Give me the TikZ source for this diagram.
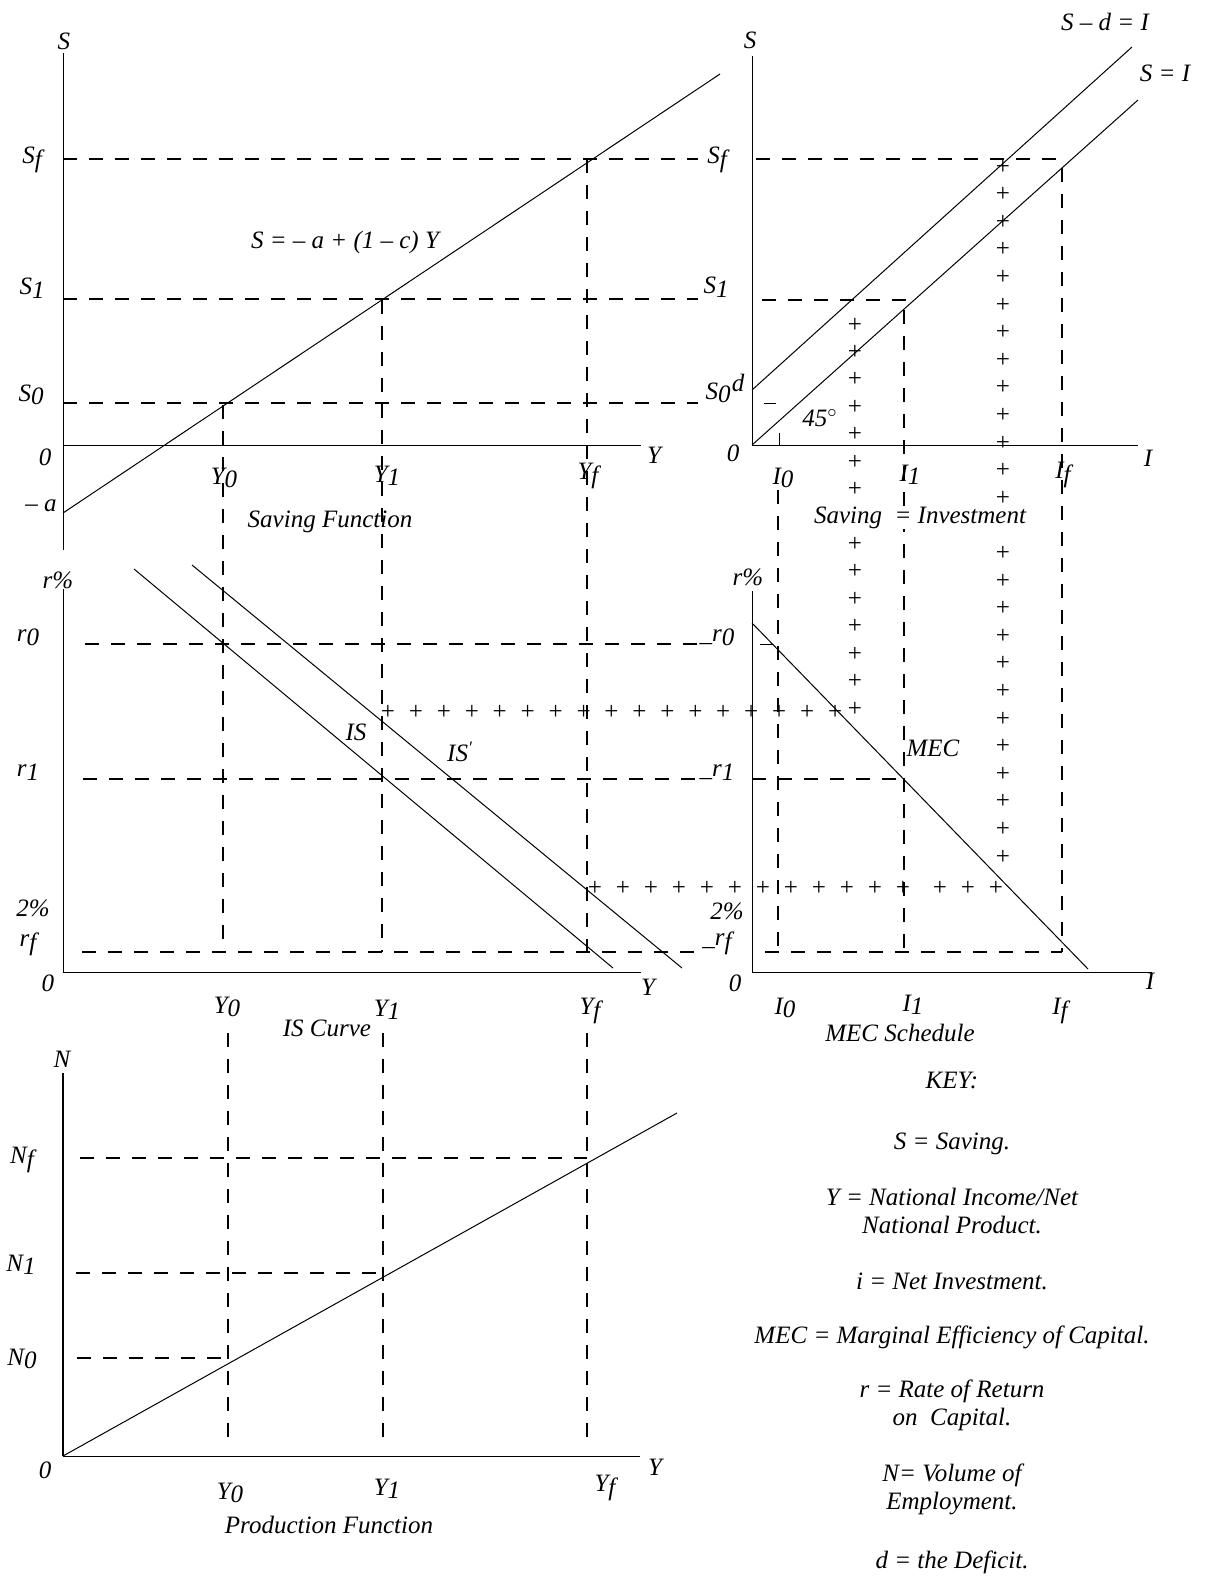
\documentclass[tikz,border=0pt]{standalone}
\usepackage{fontspec}
\setmainfont{Liberation Serif}
\usetikzlibrary{calc}
\newcommand{\lowsub}[1]{\raisebox{-0.3ex}{#1}}

\begin{document}
\begin{tikzpicture}[x=0.5pt, y=-0.5pt, line width=0.5pt,
  dashline/.style={dash pattern=on 7pt off 6pt, line width=0.55pt},
  lbl/.style={font=\fontsize{12.5}{14}\selectfont\itshape, inner sep=0pt},
  plus/.style={font=\fontsize{12.5}{14}\selectfont, inner sep=0pt}]

\useasboundingbox (0,0) rectangle (1206,1585);


\coordinate (OA) at (63,445);
\coordinate (SA) at (63,53);
\coordinate (SAlow) at (63,550);
\coordinate (YA) at (641,445);
\coordinate (SavA) at (63,513);
\coordinate (SavB) at (720,74);

\coordinate (SfA) at (63,159);
\coordinate (SfB) at (698,159);
\coordinate (S1A) at (63,299);
\coordinate (S1B) at (698,299);
\coordinate (S0A) at (63,403);
\coordinate (S0B) at (698,403);

\coordinate (Y0top) at (223,405);
\coordinate (Y1top) at (382,300);
\coordinate (Yftop) at (587,159);
\coordinate (Y0mid) at (223,952);
\coordinate (Y1mid) at (382,952);
\coordinate (Yfmid) at (587,952);


\coordinate (OB) at (752,445);
\coordinate (SB) at (752,56);
\coordinate (IB) at (1138,445);
\coordinate (SIend) at (1138,100);
\coordinate (SDA) at (752,390);
\coordinate (SDB) at (1132,47);

\coordinate (SfC) at (756,159);
\coordinate (SfD) at (1062,159);
\coordinate (S1C) at (762,300);
\coordinate (S1D) at (910,300);
\coordinate (S0C) at (764,403);
\coordinate (S0D) at (776,403);

\coordinate (I0tick) at (779,433);
\coordinate (I0axis) at (779,445);
\coordinate (I0top) at (778,490);
\coordinate (I1top) at (904,310);
\coordinate (Iftop) at (1062,168);
\coordinate (I0low) at (778,952);
\coordinate (I1low) at (904,952);
\coordinate (Iflow) at (1062,952);


\coordinate (OD) at (63,972);
\coordinate (RD) at (63,589);
\coordinate (YD) at (641,972);
\coordinate (ISA) at (134,569);
\coordinate (ISB) at (613,968);
\coordinate (ISpA) at (192,565);
\coordinate (ISpB) at (682,968);

\coordinate (r0A) at (85,644);
\coordinate (r0B) at (700,644);
\coordinate (r1A) at (83,779);
\coordinate (r1B) at (700,779);
\coordinate (rfA) at (82,952);
\coordinate (rfB) at (700,952);


\coordinate (OC) at (752,972);
\coordinate (RC) at (752,591);
\coordinate (IC) at (1152,972);
\coordinate (MECA) at (752,623);
\coordinate (MECB) at (1088,969);

\coordinate (r0C) at (760,644);
\coordinate (r0D) at (773,644);
\coordinate (r1C) at (752,779);
\coordinate (r1D) at (904,779);
\coordinate (rfC) at (765,952);
\coordinate (rfD) at (1062,952);


\coordinate (OE) at (63,1456);
\coordinate (NE) at (63,1073);
\coordinate (YE) at (640,1456);
\coordinate (PFB) at (677,1113);

\coordinate (NfA) at (80,1158);
\coordinate (NfB) at (587,1158);
\coordinate (N1A) at (76,1273);
\coordinate (N1B) at (383,1273);
\coordinate (N0A) at (77,1358);
\coordinate (N0B) at (227,1358);

\coordinate (Y0E) at (228,1033);
\coordinate (Y1E) at (383,1033);
\coordinate (YfE) at (587,1033);
\coordinate (Y0Elow) at (228,1442);
\coordinate (Y1Elow) at (383,1442);
\coordinate (YfElow) at (587,1442);


\draw (SA) -- (SAlow);
\draw (OA) -- (YA);
\draw (SavA) -- (SavB);
\draw [dashline] (SfA) -- (SfB);
\draw [dashline] (S1A) -- (S1B);
\draw [dashline] (S0A) -- (S0B);
\draw [dashline] (Y0top) -- (Y0mid);
\draw [dashline] (Y1top) -- (Y1mid);
\draw [dashline] (Yftop) -- (Yfmid);

\draw (SB) -- (OB) -- (IB);
\draw (OB) -- (SIend);
\draw (SDA) -- (SDB);
\draw [dashline] (SfC) -- (SfD);
\draw [dashline] (S1C) -- (S1D);
\draw (S0C) -- (S0D);
\draw (I0tick) -- (I0axis);
\draw [dashline] (I0top) -- (I0low);
\draw [dashline] (I1top) -- (I1low);
\draw [dashline] (Iftop) -- (Iflow);

\draw (RD) -- (OD) -- (YD);
\draw (ISA) -- (ISB);
\draw (ISpA) -- (ISpB);
\draw [dashline] (r0A) -- (r0B);
\draw [dashline] (r1A) -- (r1B);
\draw [dashline] (rfA) -- (rfB);

\draw (RC) -- (OC) -- (IC);
\draw (MECA) -- (MECB);
\draw (r0C) -- (r0D);
\draw [dashline] (r1C) -- (r1D);
\draw [dashline] (rfC) -- (rfD);

\draw [line width=1pt] (NE) -- (OE);
\draw (OE) -- (YE);
\draw (OE) -- (PFB);
\draw [dashline] (NfA) -- (NfB);
\draw [dashline] (N1A) -- (N1B);
\draw [dashline] (N0A) -- (N0B);
\draw [dashline] (Y0E) -- (Y0Elow);
\draw [dashline] (Y1E) -- (Y1Elow);
\draw [dashline] (YfE) -- (YfElow);


\foreach \k in {0,...,6,8,9,...,14}
  \node[plus] (pa\k) at (855,{325+27.43*\k}) {+};
\foreach \k in {0,...,12,14,15,...,25}
  \node[plus] (pb\k) at (1003,{167+27.6*\k}) {+};
\foreach \k in {0,...,16}
  \node[plus] (pc\k) at ({388+27.94*\k},712) {+};
\foreach \k in {0,...,11}
  \node[plus] (pd\k) at ({595+28*\k},888) {+};
\foreach \x [count=\k] in {940,968,996}
  \node[plus] (pe\k) at (\x,888) {+};


\node[lbl] (lSA) at (64,41) {S};
\node[lbl] (lSfA) at (32,160) {S\lowsub{f}};
\node[lbl] (lS1A) at (32,288) {S\lowsub{1}};
\node[lbl] (lS0A) at (31,395) {S\lowsub{0}};
\node[lbl] (l0A) at (45,457) {0};
\node[lbl] (lma) at (41,506) {– a};
\node[lbl] (lYA) at (654,455) {Y};
\node[lbl] (lY0A) at (224,478) {Y\lowsub{0}};
\node[lbl] (lY1A) at (387,476) {Y\lowsub{1}};
\node[lbl] (lYfA) at (588,476) {Y\lowsub{f}};
\node[lbl] (leq) at (345,242) {S = – a + (1 – c) Y};
\node[lbl] (lsav) at (330,522) {Saving Function};

\node[lbl] (lSB) at (750,40) {S};
\node[lbl] (lSfB) at (717,160) {S\lowsub{f}};
\node[lbl] (lS1B) at (716,287) {S\lowsub{1}};
\node[lbl] (lS0B) at (718,393) {S\lowsub{0}};
\node[lbl] (ld) at (738,383) {d};
\node[lbl] (l0B) at (733,453) {0};
\node[lbl] (lIB) at (1148,458) {I};
\node[lbl] (l45) at (820,418) {45$^\circ$};
\node[lbl] (lI0B) at (783,478) {I\lowsub{0}};
\node[lbl] (lI1B) at (910,475) {I\lowsub{1}};
\node[lbl] (lIfB) at (1063,475) {I\lowsub{f}};
\node[lbl] (lSD) at (1105,22) {S – d = I};
\node[lbl] (lSI) at (1165,73) {S = I};
\node[lbl, fill=white] (lSeqI) at (920,518) {Saving \ = Investment};

\node[lbl] (lrD) at (58,580) {r\%};
\node[lbl] (lr0D) at (28,637) {r\lowsub{0}};
\node[lbl] (lr1D) at (28,772) {r\lowsub{1}};
\node[lbl] (l2D) at (33,908) {2\%};
\node[lbl] (lrfD) at (28,944) {r\lowsub{f}};
\node[lbl] (l0D) at (48,983) {0};
\node[lbl] (lYD) at (648,987) {Y};
\node[lbl] (lY0D) at (227,1007) {Y\lowsub{0}};
\node[lbl] (lY1D) at (387,1010) {Y\lowsub{1}};
\node[lbl] (lYfD) at (590,1011) {Y\lowsub{f}};
\node[lbl] (lIS) at (356,732) {IS};
\node[lbl] (lISp) at (460,752) {IS\textsuperscript{′}};
\node[lbl] (lIScurve) at (327,1028) {IS Curve};

\node[lbl] (lrC) at (748,577) {r\%};
\node[lbl] (lr0C) at (717,637) {\_r\lowsub{0}};
\node[lbl] (lr1C) at (717,772) {\_r\lowsub{1}};
\node[lbl] (l2C) at (727,911) {2\%};
\node[lbl] (lrfC) at (717,943) {\_r\lowsub{f}};
\node[lbl] (l0C) at (735,983) {0};
\node[lbl] (lIC) at (1150,981) {I};
\node[lbl] (lI0C) at (785,1008) {I\lowsub{0}};
\node[lbl] (lI1C) at (913,1005) {I\lowsub{1}};
\node[lbl] (lIfC) at (1060,1011) {I\lowsub{f}};
\node[lbl] (lMEC) at (933,748) {MEC};
\node[lbl] (lMECs) at (900,1033) {MEC Schedule};

\node[lbl] (lNE) at (62,1059) {N};
\node[lbl] (lNf) at (22,1160) {N\lowsub{f}};
\node[lbl] (lN1) at (21,1265) {N\lowsub{1}};
\node[lbl] (lN0) at (22,1359) {N\lowsub{0}};
\node[lbl] (l0E) at (45,1470) {0};
\node[lbl] (lYE) at (655,1467) {Y};
\node[lbl] (lY0E) at (230,1493) {Y\lowsub{0}};
\node[lbl] (lY1E) at (387,1489) {Y\lowsub{1}};
\node[lbl] (lYfE) at (605,1488) {Y\lowsub{f}};
\node[lbl] (lprod) at (329,1525) {Production Function};


\node[lbl] (key) at (952,1080) {KEY:};
\node[lbl] (kS) at (952,1144) {S = Saving.};
\node[lbl, align=center] (kY) at (952,1211) {Y = National Income/Net\\National Product.};
\node[lbl] (ki) at (952,1281) {i = Net Investment.};
\node[lbl] (kMEC) at (952,1337) {MEC = Marginal Efficiency of Capital.};
\node[lbl, align=center] (kr) at (952,1405) {r = Rate of Return\\on \ Capital.};
\node[lbl, align=center] (kN) at (952,1489) {N= Volume of\\Employment.};
\node[lbl] (kd) at (952,1562) {d = the Deficit.};

\end{tikzpicture}
\end{document}
